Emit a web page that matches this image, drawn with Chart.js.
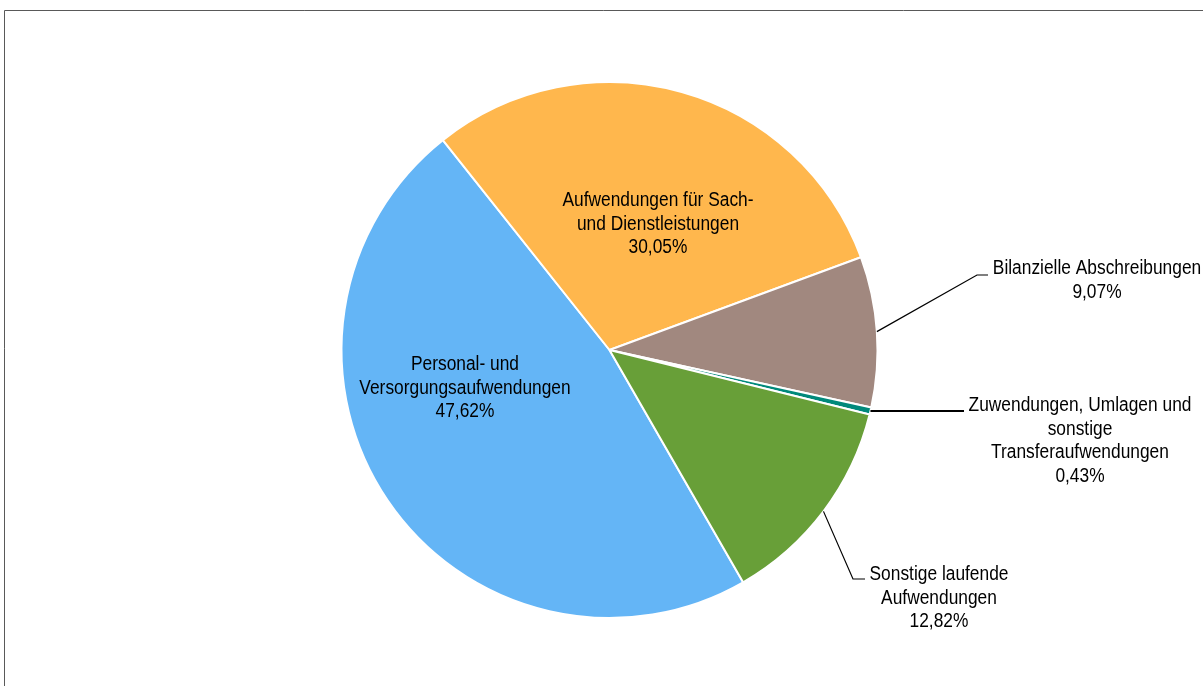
<!DOCTYPE html>
<html><head><meta charset="utf-8">
<script src="https://cdn.jsdelivr.net/npm/chart.js@4.4.0/dist/chart.umd.min.js"></script>
<style>html,body{margin:0;padding:0;background:#fff;overflow:hidden}canvas{display:block}</style>
</head><body>
<canvas id="c" width="1203" height="686"></canvas>
<script>
// ---- data ----
const categories = [
  ["Personal- und", "Versorgungsaufwendungen"],
  ["Aufwendungen für Sach-", "und Dienstleistungen"],
  ["Bilanzielle Abschreibungen"],
  ["Zuwendungen, Umlagen und", "sonstige", "Transferaufwendungen"],
  ["Sonstige laufende", "Aufwendungen"]
];
const values = [47.62, 30.05, 9.07, 0.43, 12.82];
const valueLabels = ["47,62%", "30,05%", "9,07%", "0,43%", "12,82%"];

// ---- styles / layout ----
const colors = ["#64B5F6", "#FFB74D", "#A1887F", "#00897B", "#689F38"];
const labelLayout = [
  { x: 465, y: 365, inside: true },
  { x: 658, y: 201, inside: true },
  { x: 1097, y: 269, elbow: [977, 275], end: [988, 275] },
  { x: 1080, y: 406, elbow: null, end: [964, 411] },
  { x: 939, y: 575, elbow: [853, 579], end: [865, 579] }
];
const FONT = '19.5px "Liberation Sans", Arial, sans-serif';
const XSCALE = 0.89;
const LINE_H = 23.5;

const framePlugin = {
  id: 'frame',
  beforeDraw(chart) {
    const ctx = chart.ctx;
    ctx.save();
    ctx.strokeStyle = '#595959';
    ctx.lineWidth = 1;
    ctx.beginPath();
    ctx.moveTo(4.5, 686);
    ctx.lineTo(4.5, 10.5);
    ctx.lineTo(1203, 10.5);
    ctx.stroke();
    ctx.restore();
  }
};

const labelPlugin = {
  id: 'pieLabels',
  afterDatasetsDraw(chart) {
    const ctx = chart.ctx;
    const meta = chart.getDatasetMeta(0);
    ctx.save();
    meta.data.forEach((arc, i) => {
      const L = labelLayout[i];
      const p = arc.getProps(['x', 'y', 'startAngle', 'endAngle', 'outerRadius'], true);
      if (!L.inside) {
        const mid = (p.startAngle + p.endAngle) / 2;
        const sx = p.x + Math.cos(mid) * p.outerRadius;
        const sy = p.y + Math.sin(mid) * p.outerRadius;
        ctx.strokeStyle = '#000';
        ctx.lineWidth = i === 3 ? 2 : 1.2;
        ctx.beginPath();
        ctx.moveTo(sx, sy);
        if (L.elbow) ctx.lineTo(L.elbow[0], L.elbow[1]);
        ctx.lineTo(L.end[0], L.end[1]);
        ctx.stroke();
      }
      const lines = categories[i].concat([valueLabels[i]]);
      ctx.fillStyle = '#000';
      ctx.font = FONT;
      ctx.textAlign = 'center';
      ctx.textBaseline = 'middle';
      lines.forEach((t, k) => {
        ctx.save();
        ctx.translate(L.x, L.y + k * LINE_H);
        ctx.scale(XSCALE, 1);
        ctx.fillText(t, 0, 0);
        ctx.restore();
      });
    });
    ctx.restore();
  }
};

new Chart(document.getElementById('c'), {
  type: 'pie',
  data: {
    labels: categories.map(c => c.join(' ')),
    datasets: [{
      data: values,
      backgroundColor: colors,
      borderColor: '#ffffff',
      borderWidth: 2
    }]
  },
  options: {
    responsive: false,
    animation: false,
    rotation: 150.1,
    layout: { padding: { left: 340, right: 324, top: 81, bottom: 67 } },
    plugins: { legend: { display: false }, tooltip: { enabled: false } }
  },
  plugins: [framePlugin, labelPlugin]
});
</script>
</body></html>
